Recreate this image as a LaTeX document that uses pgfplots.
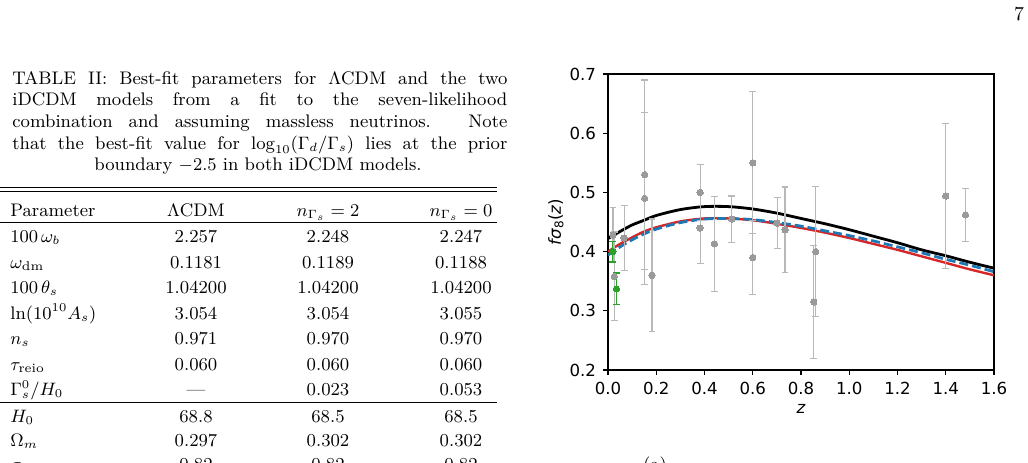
\documentclass[border=0pt]{standalone}
\usepackage{fontspec}
\usepackage{pgfplots}
\usepackage{pgfplotstable}
\pgfplotsset{compat=1.18}

\newfontfamily\plotfont{DejaVu Sans}
\definecolor{tabred}{HTML}{D62728}
\definecolor{tabblue}{HTML}{1F77B4}
\definecolor{tabgreen}{HTML}{2CA02C}
\definecolor{ptgray}{HTML}{9A9A9A}
\definecolor{bargray}{HTML}{B8B8B8}

\newcommand\tabfont{\fontsize{9.1}{11}\selectfont}
% one table row: baseline (from the top), label, three values
\newcommand\trow[5]{%
  \node[anchor=base west] at (10,462-#1) {#2};
  \node[anchor=base] at (196,462-#1) {#3};
  \node[anchor=base] at (328,462-#1) {#4};
  \node[anchor=base] at (461,462-#1) {#5};}
% one justified caption line
\newcommand\capline[2]{%
  \node[anchor=base west] at (12,462-#1) {\makebox[247.5pt][s]{#2}};}

% growth-rate predictions f sigma_8(z) of the three best-fit models
\pgfplotstableread{
z     lcdm   ntwo   nzero
0.00  0.422  0.400  0.394
0.05  0.434  0.413  0.408
0.10  0.445  0.424  0.420
0.15  0.453  0.434  0.430
0.20  0.461  0.441  0.438
0.30  0.471  0.451  0.449
0.40  0.476  0.456  0.455
0.50  0.476  0.456  0.456
0.60  0.472  0.453  0.454
0.70  0.465  0.447  0.449
0.80  0.456  0.440  0.443
0.90  0.447  0.432  0.435
1.00  0.437  0.423  0.427
1.10  0.426  0.413  0.418
1.20  0.415  0.403  0.408
1.30  0.403  0.392  0.398
1.40  0.393  0.381  0.387
1.50  0.382  0.370  0.377
1.60  0.372  0.360  0.366
}\curves

% RSD measurements
\pgfplotstableread{
z      f      e
0.021  0.428  0.046
0.026  0.358  0.075
0.067  0.423  0.055
0.152  0.530  0.160
0.152  0.490  0.145
0.182  0.360  0.095
0.382  0.500  0.047
0.382  0.440  0.060
0.441  0.413  0.080
0.513  0.455  0.039
0.600  0.550  0.120
0.600  0.390  0.063
0.701  0.448  0.043
0.734  0.437  0.072
0.853  0.315  0.095
0.861  0.400  0.110
1.400  0.494  0.123
1.482  0.462  0.045
}\rsd

% peculiar-velocity measurements
\pgfplotstableread{
z      f      e
0.020  0.400  0.0175
0.035  0.337  0.027
}\pv

\begin{document}
\begin{tikzpicture}[x=0.5pt,y=0.5pt]
\useasboundingbox[fill=white] (0,0) rectangle (1028,462);

% page number
\node[anchor=base,inner sep=0pt,font=\fontsize{9.9}{12}\selectfont] at (1019,462-20) {7};

% table caption
\begin{scope}[every node/.style={inner sep=0pt,font=\tabfont}]
\capline{84}{TABLE II: Best-fit parameters for $\Lambda$CDM and the two}
\capline{105.7}{iDCDM models from a fit to the seven-likelihood}
\capline{127.4}{combination and assuming massless neutrinos. Note}
\capline{149.1}{that the best-fit value for $\log_{10}(\Gamma_d/\Gamma_s)$ lies at the prior}
\node[anchor=base] at (258,462-170.8) {boundary $-2.5$ in both iDCDM models.};
\end{scope}

% table rules
\draw[line width=0.5pt] (0,462-187.8) -- (497,462-187.8);
\draw[line width=0.5pt] (0,462-191.8) -- (497,462-191.8);
\draw[line width=0.5pt] (0,462-222.3) -- (497,462-222.3);
\draw[line width=0.5pt] (0,462-402.5) -- (497,462-402.5);

% table body
\begin{scope}[every node/.style={inner sep=0pt,font=\tabfont}]
\trow{216}{Parameter}{$\Lambda$CDM}{$n_{\Gamma_s}=2$}{$n_{\Gamma_s}=0$}
\trow{242.7}{$100\,\omega_b$}{2.257}{2.248}{2.247}
\trow{268.2}{$\omega_{\rm dm}$}{0.1181}{0.1189}{0.1188}
\trow{293.7}{$100\,\theta_s$}{1.04200}{1.04200}{1.04200}
\trow{319.2}{$\ln(10^{10}A_s)$}{3.054}{3.054}{3.055}
\trow{344.7}{$n_s$}{0.971}{0.970}{0.970}
\trow{370.2}{$\tau_{\rm reio}$}{0.060}{0.060}{0.060}
\trow{395.7}{$\Gamma_s^0/H_0$}{---}{0.023}{0.053}
\trow{422.7}{$H_0$}{68.8}{68.5}{68.5}
\trow{446.7}{$\Omega_m$}{0.297}{0.302}{0.302}
\trow{470.5}{$\sigma_8$}{0.82}{0.82}{0.82}
% sub-figure tag below the plot
\node[anchor=base] at (655,462-470.5) {(a)};
\end{scope}

\begin{axis}[
  at={(304pt,46pt)}, anchor=south west, scale only axis,
  width=193pt, height=148pt,
  xmin=0, xmax=1.6, ymin=0.2, ymax=0.7,
  xtick={0,0.2,0.4,0.6,0.8,1.0,1.2,1.4,1.6},
  ytick={0.2,0.3,0.4,0.5,0.6,0.7},
  scaled ticks=false,
  xtick pos=bottom, ytick pos=left,
  tick align=outside, major tick length=2.5pt,
  tick style={black, line width=0.55pt},
  axis line style={line width=0.55pt},
  ticklabel style={font=\plotfont\fontsize{8.3}{10}\selectfont},
  /pgf/number format/assume math mode=true,
  /pgf/number format/.cd, fixed, fixed zerofill, precision=1, /tikz/.cd,
  xlabel={\plotfont\fontsize{8.3}{10}\selectfont\itshape z},
  ylabel={\plotfont\fontsize{8.3}{10}\selectfont\textit{fσ}\raisebox{-0.25ex}{\fontsize{6}{7}\selectfont 8}(\textit{z})},
  x label style={at={(axis description cs:0.5,-0.132)}, anchor=center},
  y label style={at={(axis description cs:-0.135,0.5)}, anchor=center},
  clip=true,
]
\addplot[black, line width=1.4pt, smooth] table[x=z,y=lcdm] {\curves};
\addplot[tabred, line width=1.2pt, smooth] table[x=z,y=ntwo] {\curves};
\addplot[tabblue, line width=1.4pt, smooth, dash pattern=on 4.5pt off 2pt] table[x=z,y=nzero] {\curves};

\addplot[ptgray, only marks, mark=*, mark size=1.6pt, mark options={fill=ptgray, draw=ptgray, line width=0pt},
  error bars/.cd, y dir=both, y explicit,
  error bar style={bargray, line width=0.6pt},
  error mark options={rotate=90, mark size=1.7pt, bargray, line width=0.6pt}]
  table[x=z, y=f, y error=e] {\rsd};
\addplot[tabgreen, only marks, mark=*, mark size=1.6pt, mark options={fill=tabgreen, draw=tabgreen, line width=0pt},
  error bars/.cd, y dir=both, y explicit,
  error bar style={tabgreen, line width=0.6pt},
  error mark options={rotate=90, mark size=1.7pt, tabgreen, line width=0.6pt}]
  table[x=z, y=f, y error=e] {\pv};
\end{axis}
\end{tikzpicture}
\end{document}
